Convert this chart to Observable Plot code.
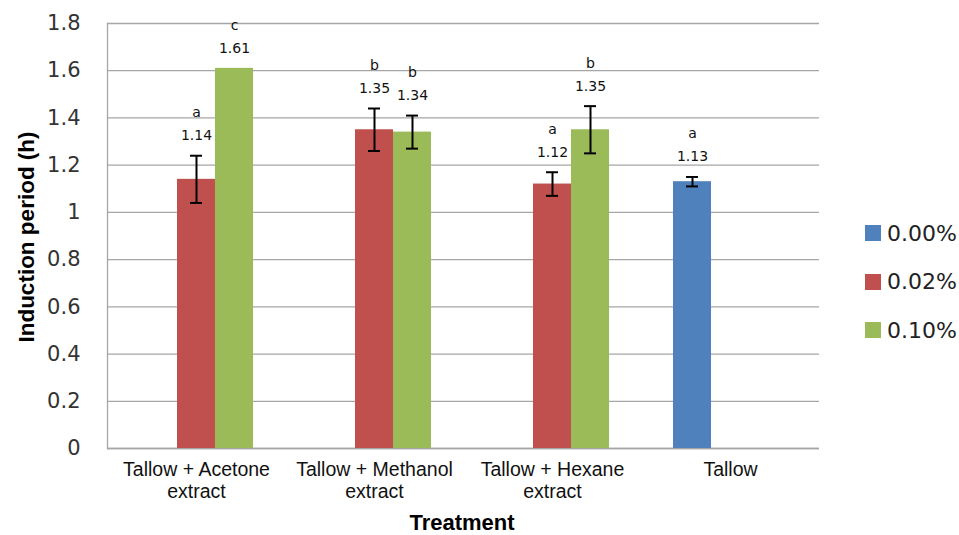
<!DOCTYPE html>
<html>
<head>
<meta charset="utf-8">
<script src="https://cdn.jsdelivr.net/npm/d3@7"></script>
<script src="https://cdn.jsdelivr.net/npm/@observablehq/plot@0.6"></script>
<style>
  html, body { margin: 0; padding: 0; background: #fff; }
  #wrap { position: relative; width: 959px; height: 535px; overflow: hidden; }
  .ytitle { position: absolute; left: 27px; top: 237px; transform: translate(-50%, -50%) rotate(-90deg);
    font: bold 22.5px "Liberation Sans", Arial, sans-serif; line-height: 1; white-space: nowrap; color: #000; }
  .xtitle { position: absolute; left: 462px; top: 523px; transform: translate(-50%, -50%);
    font: bold 22px "Liberation Sans", Arial, sans-serif; line-height: 1; white-space: nowrap; color: #000; }
  .legend { position: absolute; left: 865px; top: 221px; font: 22px "DejaVu Sans", sans-serif; color: #222; }
  .legend .row { display: flex; align-items: center; height: 24px; margin-bottom: 24.5px; }
  .legend .sw { width: 16px; height: 16px; margin-right: 6px; }
</style>
</head>
<body>
<div id="wrap"></div>
<script>
// ---- data ----
const treatments = ["Tallow + Acetone extract", "Tallow + Methanol extract", "Tallow + Hexane extract", "Tallow"];
const treatmentTickLabels = ["Tallow + Acetone\nextract", "Tallow + Methanol\nextract", "Tallow + Hexane\nextract", "Tallow"];
const concentrations = ["0.00%", "0.02%", "0.10%"];
const concentrationColors = ["#4F81BD", "#C0504D", "#9BBB59"];

const barTreatment = ["Tallow + Acetone extract", "Tallow + Acetone extract", "Tallow + Methanol extract", "Tallow + Methanol extract", "Tallow + Hexane extract", "Tallow + Hexane extract", "Tallow"];
const barConcentration = ["0.02%", "0.10%", "0.02%", "0.10%", "0.02%", "0.10%", "0.00%"];
const barValue = [1.14, 1.61, 1.35, 1.34, 1.12, 1.35, 1.13];
const barError = [0.10, 0, 0.09, 0.07, 0.05, 0.10, 0.02];
const barLetter = ["a", "c", "b", "b", "a", "b", "a"];
const yTicks = [0, 0.2, 0.4, 0.6, 0.8, 1.0, 1.2, 1.4, 1.6, 1.8];

const rows = barValue.map((v, i) => ({
  treatment: barTreatment[i],
  conc: barConcentration[i],
  value: v,
  err: barError[i],
  lo: v - barError[i],
  hi: v + barError[i],
  letter: barLetter[i]
}));
const errRows = rows.filter(d => d.err > 0);

const grid = "#a6a6a6";
const chart = Plot.plot({
  width: 959,
  height: 535,
  marginLeft: 105,
  marginRight: 139,
  marginTop: 23,
  marginBottom: 87,
  style: { fontFamily: "DejaVu Sans, sans-serif", background: "transparent" },
  fx: { domain: treatments, padding: 0, axis: null, label: null },
  x: { domain: concentrations, paddingInner: 0, paddingOuter: 0.79, axis: null, label: null },
  y: { domain: [0, 1.8], axis: null, label: null },
  color: { domain: concentrations, range: concentrationColors },
  marks: [
    Plot.gridY(yTicks, { stroke: grid, strokeOpacity: 1, strokeWidth: 1.3 }),
    Plot.ruleY([0], { stroke: grid, strokeWidth: 1.3 }),
    Plot.frame({ anchor: "left", facetAnchor: "left", stroke: grid, strokeWidth: 1.3 }),
    Plot.barY(rows, { fx: "treatment", x: "conc", y: "value", fill: "conc" }),
    Plot.ruleX(errRows, { fx: "treatment", x: "conc", y1: "lo", y2: "hi", stroke: "#000", strokeWidth: 2 }),
    Plot.tickY(errRows, { fx: "treatment", x: "conc", y: "lo", stroke: "#000", strokeWidth: 2, insetLeft: 13, insetRight: 13 }),
    Plot.tickY(errRows, { fx: "treatment", x: "conc", y: "hi", stroke: "#000", strokeWidth: 2, insetLeft: 13, insetRight: 13 }),
    Plot.text(rows, { fx: "treatment", x: "conc", y: "hi", text: d => d.value.toFixed(2), dy: -20, fontSize: 14, fill: "#111" }),
    Plot.text(rows, { fx: "treatment", x: "conc", y: "hi", text: "letter", dy: -43, fontSize: 14, fill: "#111" }),
    Plot.axisY(yTicks, { tickSize: 0, tickPadding: 27, tickFormat: d => String(+d.toFixed(1)), fontSize: 21, fill: "#333", label: null }),
    Plot.axisFx({ anchor: "bottom", tickSize: 0, tickPadding: 13, tickFormat: d => treatmentTickLabels[treatments.indexOf(d)], fontSize: 19.5, lineHeight: 1.08, fontFamily: "Liberation Sans, Arial, sans-serif", fill: "#111", label: null })
  ]
});

const wrap = document.getElementById("wrap");
wrap.appendChild(chart);

const yt = document.createElement("div");
yt.className = "ytitle"; yt.textContent = "Induction period (h)";
wrap.appendChild(yt);
const xt = document.createElement("div");
xt.className = "xtitle"; xt.textContent = "Treatment";
wrap.appendChild(xt);

const lg = document.createElement("div");
lg.className = "legend";
concentrations.forEach((c, i) => {
  const r = document.createElement("div"); r.className = "row";
  const s = document.createElement("span"); s.className = "sw"; s.style.background = concentrationColors[i];
  const t = document.createElement("span"); t.textContent = c;
  r.appendChild(s); r.appendChild(t); lg.appendChild(r);
});
wrap.appendChild(lg);
</script>
</body>
</html>
